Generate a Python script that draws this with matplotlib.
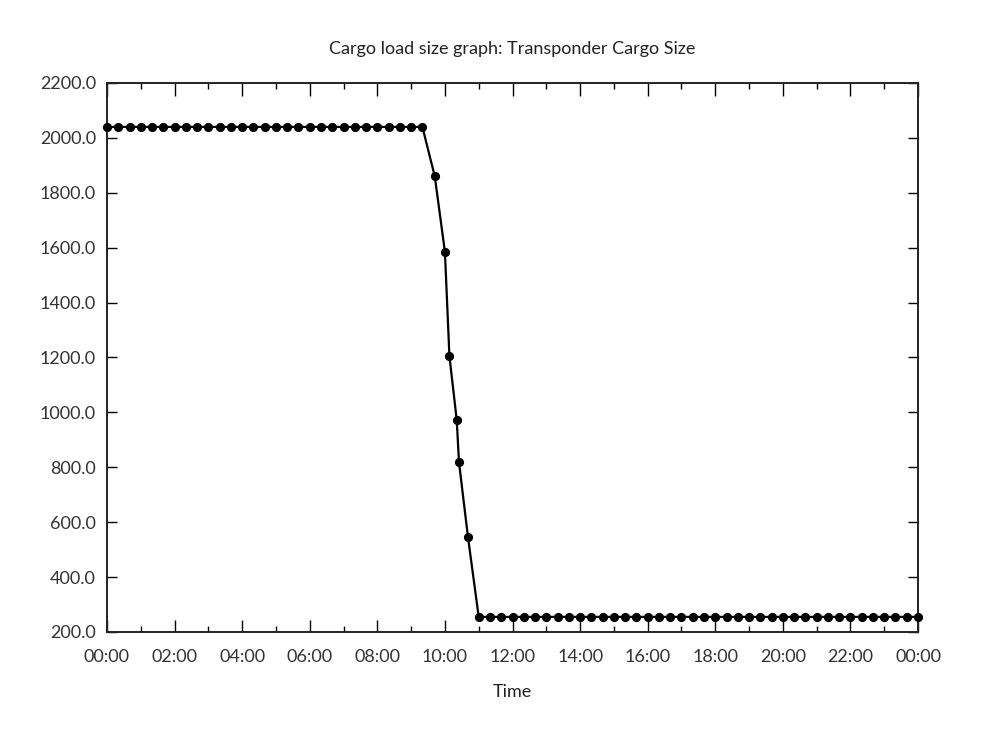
import matplotlib
matplotlib.use("Agg")
import matplotlib.pyplot as plt
from matplotlib.ticker import MultipleLocator, FuncFormatter

# Times in hours since 00:00
high_times = [i / 3 for i in range(0, 29)]          # 00:00 .. 09:20 every 20 min
high_values = [2040.0] * len(high_times)
drop_times = [9 + 42/60, 10 + 0/60, 10 + 8/60, 10 + 21/60, 10 + 25/60, 10 + 41/60]
drop_values = [1860.0, 1585.0, 1205.0, 972.0, 818.0, 545.0]
low_times = [11 + i / 3 for i in range(0, 40)]      # 11:00 .. 24:00 every 20 min
low_values = [255.0] * len(low_times)

times = high_times + drop_times + low_times
values = high_values + drop_values + low_values

title = "Cargo load size graph: Transponder Cargo Size"
xlabel = "Time"

plt.rcParams['font.family'] = ['Lato', 'DejaVu Sans']

fig = plt.figure(figsize=(9.91, 7.30), dpi=100)
ax = fig.add_axes([107/991, 1 - 632/730, (918 - 107)/991, (632 - 83)/730])

ax.plot(times, values, color='black', lw=1.6, marker='o', markersize=5.6,
        clip_on=False, zorder=3)

ax.set_xlim(0, 24)
ax.set_ylim(200, 2200)
ax.xaxis.set_major_locator(MultipleLocator(2))
ax.xaxis.set_minor_locator(MultipleLocator(1))
ax.yaxis.set_major_locator(MultipleLocator(200))
ax.xaxis.set_major_formatter(FuncFormatter(lambda v, p: "%02d:00" % (int(round(v)) % 24)))
ax.yaxis.set_major_formatter(FuncFormatter(lambda v, p: "%.1f" % v))

ax.tick_params(which='major', direction='in', top=True, right=True, length=9,
               width=1.0, labelsize=13, labelcolor='#333333')
ax.tick_params(which='minor', direction='in', top=True, right=True, length=4, width=1.0)
ax.tick_params(axis='y', which='major', length=7, pad=8)
ax.tick_params(axis='x', which='major', pad=12)

for s in ax.spines.values():
    s.set_linewidth(1.4)
    s.set_color('#222222')

ax.set_title(title, fontsize=13, color='#222222', pad=21)
ax.set_xlabel(xlabel, fontsize=13, color='#222222', labelpad=14)

fig.savefig("out.png", dpi=100, facecolor='white')
